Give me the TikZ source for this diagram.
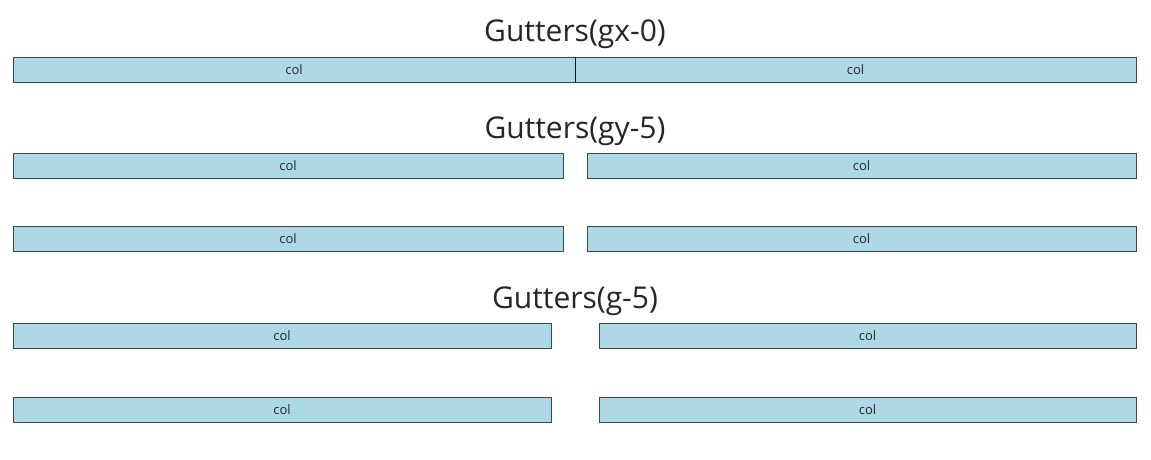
\documentclass[tikz,border=0pt]{standalone}
\usepackage{fontspec}
\setmainfont{Open Sans}
\usepackage{tikz}
\usetikzlibrary{positioning}
\definecolor{colfill}{HTML}{ADD8E6}
\definecolor{colline}{HTML}{444444}

\begin{document}
\begin{tikzpicture}[x=1pt, y=-1pt,
    colbox/.style={draw=colline, fill=colfill, line width=0.9pt, inner sep=0pt,
        minimum height=25pt, font=\fontsize{13}{15}\selectfont, text=black!85},
    gtitle/.style={anchor=base, font=\fontsize{30}{34}\selectfont, text=black!85}]
    \useasboundingbox (0, 0) rectangle (1151, 460);

    % gx-0: no space between the cols
    \node[gtitle] (tgx) at (575, 41.5) {Gutters(gx-0)};
    \node[colbox, minimum width=562pt] (gxa) at (294, 69.5) {col};
    \node[colbox, minimum width=561pt] (gxb) at (855.5, 69.5) {col};
    \draw[black, line width=0.9pt] (gxa.north east) -- (gxa.south east);

    % gy-5
    \node[gtitle] (tgy) at (575, 138) {Gutters(gy-5)};
    \node[colbox, minimum width=550pt] (gya) at (288, 165.5) {col};
    \node[colbox, minimum width=549pt] (gyb) at (861.5, 165.5) {col};
    \node[colbox, minimum width=550pt] (gyc) at (288, 239) {col};
    \node[colbox, minimum width=549pt] (gyd) at (861.5, 239) {col};

    % g-5
    \node[gtitle] (tg) at (575, 308) {Gutters(g-5)};
    \node[colbox, minimum width=538pt] (ga) at (282, 335.5) {col};
    \node[colbox, minimum width=537pt] (gb) at (867.5, 335.5) {col};
    \node[colbox, minimum width=538pt] (gc) at (282, 409.5) {col};
    \node[colbox, minimum width=537pt] (gd) at (867.5, 409.5) {col};
\end{tikzpicture}
\end{document}
